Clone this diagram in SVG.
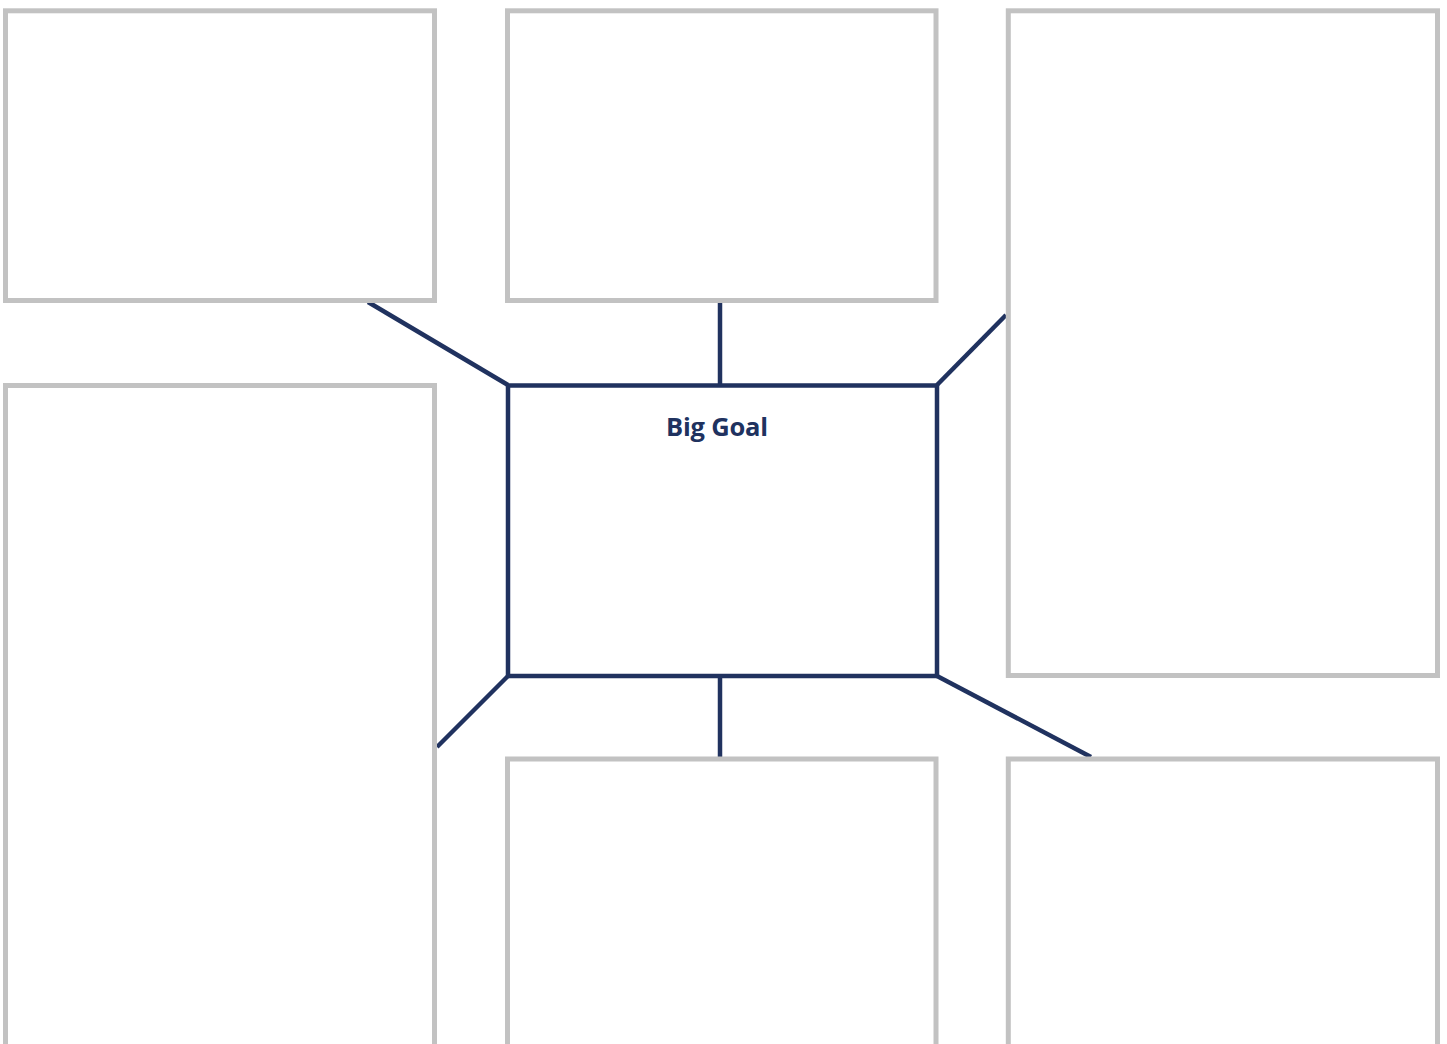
<svg xmlns="http://www.w3.org/2000/svg" width="1447" height="1044" viewBox="0 0 1447 1044">
<style>
.box{fill:#ffffff;stroke:#c2c2c2;stroke-width:5}
.goal{fill:#ffffff;stroke:#20325f;stroke-width:4.5;stroke-linejoin:round}
.conn{stroke:#20325f;stroke-width:4.5;fill:none}
.label{font-family:"Open Sans","Liberation Sans",sans-serif;font-weight:700;font-size:25.5px;fill:#20325f;letter-spacing:-0.2px}
</style>
<rect width="1447" height="1044" fill="#ffffff"/>
<g id="connectors">
<line class="conn" x1="508" y1="385" x2="368" y2="302"/>
<line class="conn" x1="720" y1="385" x2="720" y2="302"/>
<line class="conn" x1="937" y1="385" x2="1006" y2="315"/>
<line class="conn" x1="508" y1="676" x2="437" y2="747"/>
<line class="conn" x1="720" y1="676" x2="720" y2="757"/>
<line class="conn" x1="937" y1="676" x2="1091" y2="757"/>
</g>
<g id="box-top-left"><rect class="box" x="5.5" y="10.8" width="429" height="289.7"/></g>
<g id="box-top-middle"><rect class="box" x="507.5" y="10.8" width="428.5" height="289.7"/></g>
<g id="box-right-tall"><rect class="box" x="1008.3" y="10.8" width="429.2" height="664.7"/></g>
<g id="box-left-tall"><rect class="box" x="5.5" y="385.5" width="429" height="700"/></g>
<g id="box-bottom-middle"><rect class="box" x="507.5" y="759" width="428.5" height="330"/></g>
<g id="box-bottom-right"><rect class="box" x="1008.3" y="759" width="429.2" height="330"/></g>
<g id="big-goal">
<rect class="goal" x="508" y="385.5" width="429" height="290.5"/>
<text class="label" x="717" y="436" text-anchor="middle">Big Goal</text>
</g>
</svg>
